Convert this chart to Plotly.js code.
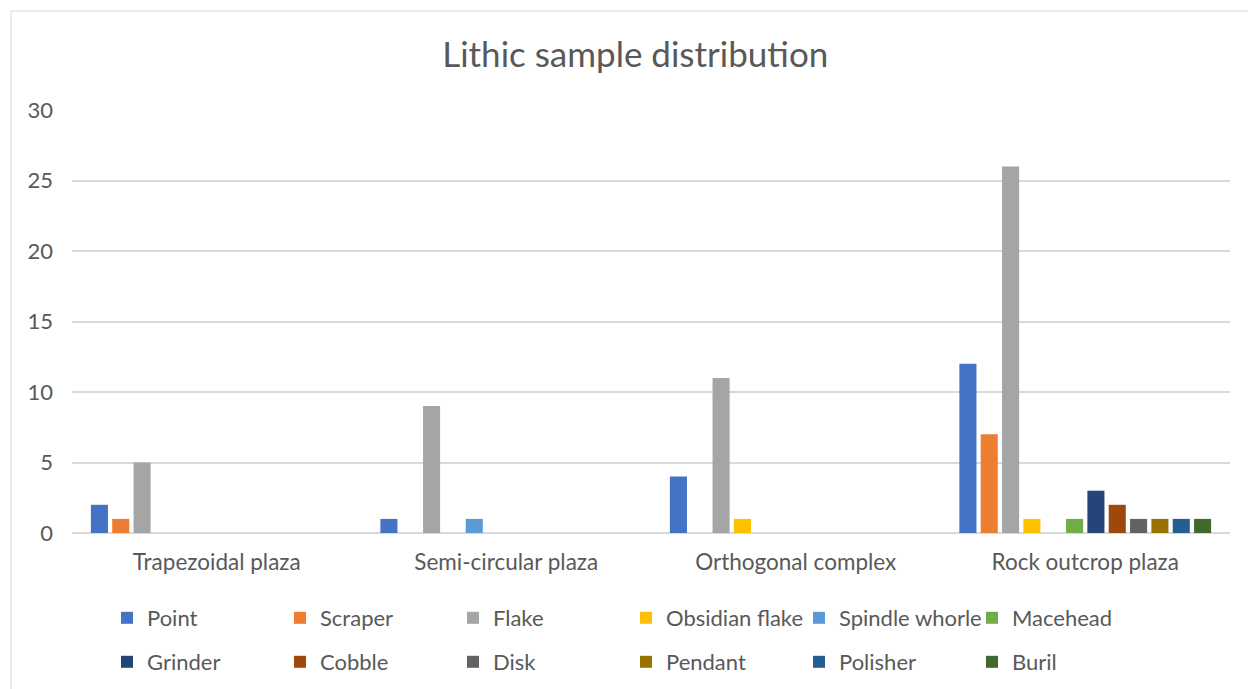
<!DOCTYPE html>
<html>
<head>
<meta charset="utf-8">
<script src="https://cdn.plot.ly/plotly-3.0.1.min.js"></script>
<style>
  html, body { margin: 0; padding: 0; background: #ffffff; }
  #chart { width: 1248px; height: 689px; }
</style>
</head>
<body>
<div id="chart"></div>
<script>
// Sites (x categories)
const sites = ['Trapezoidal plaza', 'Semi-circular plaza', 'Orthogonal complex', 'Rock outcrop plaza'];

// Artefact counts per site, one array per lithic type
const point         = [2, 1, 4, 12];
const scraper       = [1, 0, 0, 7];
const flake         = [5, 9, 11, 26];
const obsidianFlake = [0, 0, 1, 1];
const spindleWhorle = [0, 1, 0, 0];
const macehead      = [0, 0, 0, 1];
const grinder       = [0, 0, 0, 3];
const cobble        = [0, 0, 0, 2];
const disk          = [0, 0, 0, 1];
const pendant       = [0, 0, 0, 1];
const polisher      = [0, 0, 0, 1];
const buril         = [0, 0, 0, 1];

const seriesNames = ['Point', 'Scraper', 'Flake', 'Obsidian flake', 'Spindle whorle', 'Macehead',
                     'Grinder', 'Cobble', 'Disk', 'Pendant', 'Polisher', 'Buril'];
const seriesValues = [point, scraper, flake, obsidianFlake, spindleWhorle, macehead,
                      grinder, cobble, disk, pendant, polisher, buril];
const seriesColors = ['#4472C4', '#ED7D31', '#A5A5A5', '#FFC000', '#5B9BD5', '#70AD47',
                      '#264478', '#9E480E', '#636363', '#997300', '#255E91', '#43682B'];

const FONT = 'Lato, "Open Sans", "Liberation Sans", sans-serif';
const TEXT = '#595959';
const GRID = '#D9D9D9';

// First six types go in the upper legend row, the rest in the lower one
const traces = seriesNames.map((name, i) => ({
  type: 'bar',
  name: name,
  x: sites,
  y: seriesValues[i],
  marker: { color: seriesColors[i], line: { width: 0 } },
  legend: i < 6 ? 'legend' : 'legend2',
  hoverinfo: 'x+y+name'
}));

const legendCommon = {
  orientation: 'h',
  xref: 'container',
  yref: 'container',
  x: 107 / 1248,
  xanchor: 'left',
  yanchor: 'middle',
  entrywidth: 128,
  entrywidthmode: 'pixels',
  itemclick: false,
  itemdoubleclick: false,
  bgcolor: 'rgba(0,0,0,0)',
  font: { family: FONT, size: 22, color: TEXT },
  traceorder: 'normal'
};

const layout = {
  width: 1248,
  height: 689,
  margin: { l: 72, r: 18, t: 110, b: 156, pad: 0 },
  paper_bgcolor: '#ffffff',
  plot_bgcolor: '#ffffff',
  font: { family: FONT, color: TEXT },
  title: {
    text: 'Lithic sample distribution',
    x: 0.509,
    xref: 'container',
    xanchor: 'center',
    y: 0.92,
    yref: 'container',
    yanchor: 'middle',
    font: { family: FONT, size: 35, color: TEXT }
  },
  barmode: 'group',
  bargap: 0.1157,
  bargroupgap: 0.2,
  xaxis: {
    type: 'category',
    showgrid: false,
    showline: false,
    zeroline: false,
    ticks: '',
    tickfont: { family: FONT, size: 22.5, color: TEXT },
    ticklabelstandoff: 13,
    fixedrange: true
  },
  yaxis: {
    range: [0, 30],
    dtick: 5,
    tick0: 0,
    showgrid: true,
    gridcolor: GRID,
    gridwidth: 1.5,
    zeroline: true,
    zerolinecolor: GRID,
    zerolinewidth: 1.5,
    showline: false,
    ticks: '',
    tickfont: { family: FONT, size: 22, color: TEXT },
    ticklabelstandoff: 18,
    fixedrange: true
  },
  legend: Object.assign({}, legendCommon, { y: 1 - 618 / 689 }),
  legend2: Object.assign({}, legendCommon, { y: 1 - 662 / 689 }),
  shapes: [{
    // chart-area frame, open on the right and bottom edges of the page
    type: 'rect',
    xref: 'paper', yref: 'paper',
    x0: (11 - 72) / 1158, x1: (1270 - 72) / 1158,
    y0: (533 - 710) / 423, y1: (533 - 11) / 423,
    line: { color: GRID, width: 1 },
    fillcolor: 'rgba(0,0,0,0)',
    layer: 'below'
  }],
  showlegend: true
};

Plotly.newPlot('chart', traces, layout, { displayModeBar: false, staticPlot: false, responsive: false });
</script>
</body>
</html>
